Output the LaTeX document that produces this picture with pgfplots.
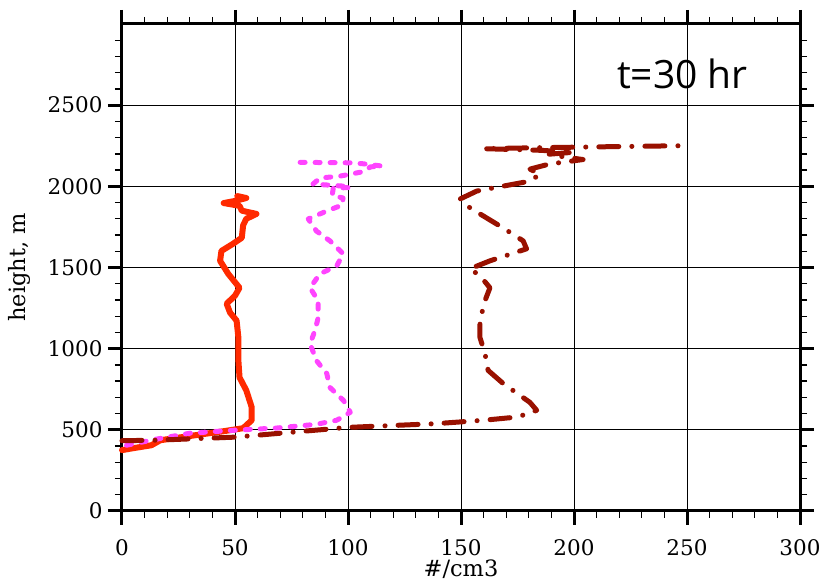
\documentclass[border=0pt]{standalone}
\usepackage{fontspec}
\setmainfont{DejaVu Serif}
\newfontfamily\titlefont{Open Sans}
\newcommand\lblfont{\fontsize{21.5}{25}\selectfont}
\newcommand\axlblfont{\fontsize{22.5}{26}\selectfont}
\usepackage{pgfplots}
\pgfplotsset{compat=1.18}
\definecolor{cred}{HTML}{FF2A00}
\definecolor{cmag}{HTML}{FF44FF}
\definecolor{cdark}{HTML}{991100}
\begin{document}
\begin{tikzpicture}
\begin{axis}[
  width=678pt, height=487pt, scale only axis,
  xmin=0, xmax=300, ymin=0, ymax=3000,
  xtick={0,50,...,300}, ytick={0,500,...,2500},
  minor xtick={10,20,30,40,60,70,80,90,110,120,130,140,160,170,180,190,210,220,230,240,260,270,280,290},
  minor ytick={100,200,300,400,600,700,800,900,1100,1200,1300,1400,1600,1700,1800,1900,2100,2200,2300,2400,2600,2700,2800,2900},
  grid=major, major grid style={black, line width=0.8pt},
  axis line style={line width=3pt},
  tick align=outside,
  major tick length=14pt, minor tick length=7pt,
  major tick style={black, line width=3pt},
  minor tick style={black, line width=1.3pt},
  /pgf/number format/assume math mode=true,
  /pgf/number format/set thousands separator={},
  every tick label/.append style={font=\lblfont},
  xticklabel style={yshift=-11pt},
  yticklabel style={xshift=-2pt},
  xlabel={\#/cm3}, ylabel={height, m},
  every axis label/.append style={font=\axlblfont},
  xlabel style={yshift=3pt},
  ylabel style={yshift=10pt},
  clip=false,
]
\addplot[cred, line width=6pt, line cap=round, line join=round] coordinates {
(0,375)(5,387)(13,405)(17,436)(30,462)(44.7,491)(53.6,510)(57.4,559)(57.4,639)(55,743)(52,823)(51.5,927)(51.5,1068)(50.7,1173)(47.8,1222)(46.3,1277)(50,1326)(52,1375)(47,1461)(43.4,1541)(44,1602)(49,1645)(53,1683)(53.6,1760)(55,1800)(59.5,1830)(53,1850)(52,1880)(45,1897)(50,1910)(55,1928)(51,1940)
};
\addplot[cmag, line width=5pt, line cap=round, line join=round, dash pattern=on 5pt off 10pt] coordinates {
(2,405)(15,442)(30,479)(49,497)(68.4,511)(86,534)(95,559)(101,608)(98,681)(92,761)(90.6,847)(86,927)(83.2,1031)(85.4,1111)(86.8,1191)(86.8,1295)(83.2,1375)(87.6,1461)(95,1510)(97.9,1584)(92,1664)(86,1725)(82.4,1799)(90.6,1848)(97.5,1885)(97.8,1928)(93,1945)(93.5,1990)(101,1992)(99.4,2000)(84.5,2014)(87.6,2051)(96.5,2063)(106.6,2090)(110,2120)(115,2125)(106,2140)(101,2145)(76.5,2148)
};
\addplot[cdark, line width=5pt, line cap=round, line join=round, dash pattern=on 20pt off 13pt on 0.1pt off 13pt] coordinates {
(0,433)(15,436)(50,455)(100,515)(139,538)(160,559)(175,579)(183.5,620)(180.5,669)(168.6,786)(162,866)(160.6,970)(158.4,1068)(158.4,1173)(160.6,1295)(162.8,1375)(158.4,1449)(154,1492)(162.8,1541)(179,1615)(177.5,1664)(168.6,1744)(154,1867)(149.6,1922)(157,1971)(180.5,2032)(185,2075)(180.5,2106)(189,2137)(204,2165)(196,2180)(189,2198)(200,2210)(185,2222)(160,2232)(185,2238)(220,2245)(247,2250)
};
\node[font=\titlefont\fontsize{39}{44}\selectfont] at (axis cs:248,2690) {t=30 hr};
\end{axis}
\pgfresetboundingbox
\path ([shift={(-122pt,-76pt)}]current axis.south west) rectangle ([shift={(26pt,24pt)}]current axis.north east);
\end{tikzpicture}
\end{document}
